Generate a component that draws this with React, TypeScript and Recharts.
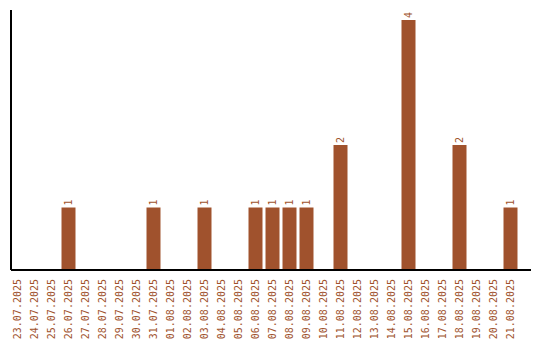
import { BarChart, Bar, XAxis, YAxis, LabelList } from "recharts";

const days = [
  "23.07.2025", "24.07.2025", "25.07.2025", "26.07.2025", "27.07.2025",
  "28.07.2025", "29.07.2025", "30.07.2025", "31.07.2025", "01.08.2025",
  "02.08.2025", "03.08.2025", "04.08.2025", "05.08.2025", "06.08.2025",
  "07.08.2025", "08.08.2025", "09.08.2025", "10.08.2025", "11.08.2025",
  "12.08.2025", "13.08.2025", "14.08.2025", "15.08.2025", "16.08.2025",
  "17.08.2025", "18.08.2025", "19.08.2025", "20.08.2025", "21.08.2025",
];

const counts = [
  0, 0, 0, 1, 0,
  0, 0, 0, 1, 0,
  0, 1, 0, 0, 1,
  1, 1, 1, 0, 2,
  0, 0, 0, 4, 0,
  0, 2, 0, 0, 1,
];

const BAR_COLOR = "#a0522d";
const FONT = "'DejaVu Sans Mono', monospace";

const data = days.map((day, i) => ({ day, count: counts[i] }));

// vertical date labels under the axis
const DateTick = (props: any) => {
  const { x, y, payload } = props;
  return (
    <text
      x={x}
      y={y}
      transform={`rotate(-90, ${x}, ${y})`}
      textAnchor="end"
      dy="0.35em"
      fill={BAR_COLOR}
      fontSize={10}
      fontFamily={FONT}
    >
      {payload.value}
    </text>
  );
};

// count above each bar, turned like the dates
const CountLabel = (props: any) => {
  const { x, y, width, value } = props;
  if (!value) return null;
  const cx = x + width / 2;
  const ty = y - 2;
  return (
    <text
      x={cx}
      y={ty}
      transform={`rotate(-90, ${cx}, ${ty})`}
      textAnchor="start"
      dy="0.35em"
      fill={BAR_COLOR}
      fontSize={10}
      fontFamily={FONT}
    >
      {value}
    </text>
  );
};

export default function App() {
  return (
    <div style={{ position: "absolute", left: 0, top: 0, background: "#fff" }}>
      <BarChart
        width={540}
        height={340}
        data={data}
        margin={{ top: 10, right: 9, bottom: 0, left: 10 }}
        barSize={14}
      >
        <XAxis
          dataKey="day"
          height={70}
          interval={0}
          tickLine={false}
          tickSize={7}
          padding={{ left: -2.5, right: 12.5 }}
          axisLine={{ stroke: "#000", strokeWidth: 2 }}
          tick={<DateTick />}
        />
        <YAxis
          width={1}
          tick={false}
          tickLine={false}
          domain={[0, 4.16]}
          axisLine={{ stroke: "#000", strokeWidth: 2 }}
        />
        <Bar dataKey="count" fill={BAR_COLOR} isAnimationActive={false}>
          <LabelList dataKey="count" content={<CountLabel />} />
        </Bar>
      </BarChart>
    </div>
  );
}
